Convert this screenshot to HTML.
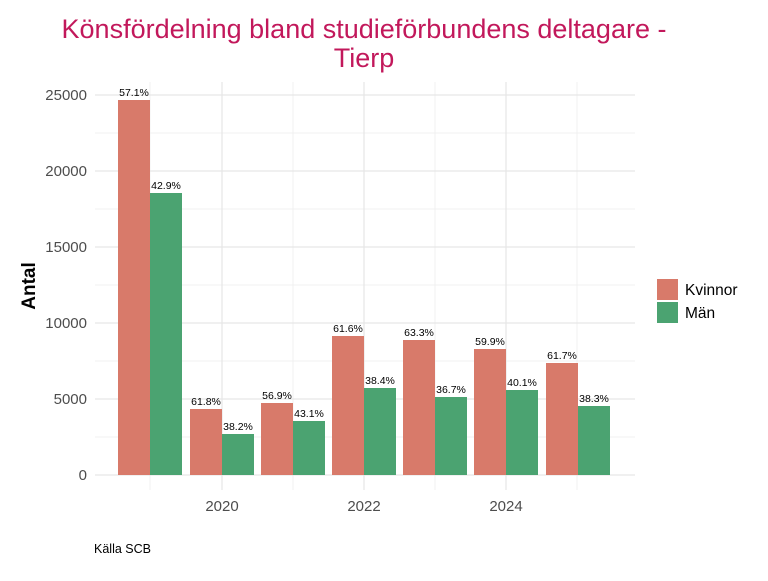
<!DOCTYPE html>
<html><head><meta charset="utf-8"><style>body{margin:0;background:#fff}</style></head><body>
<svg width="768" height="576" xmlns="http://www.w3.org/2000/svg" font-family="Liberation Sans, sans-serif">
<rect width="768" height="576" fill="#fff"/>
<text x="364" y="38" font-size="27" fill="#c2185b" text-anchor="middle">Könsfördelning bland studieförbundens deltagare -</text>
<text x="364" y="67" font-size="27" fill="#c2185b" text-anchor="middle">Tierp</text>
<g stroke="#f0f0f0" stroke-width="1">
<line x1="95" x2="635" y1="437" y2="437"/><line x1="95" x2="635" y1="361" y2="361"/><line x1="95" x2="635" y1="285" y2="285"/><line x1="95" x2="635" y1="209" y2="209"/><line x1="95" x2="635" y1="133" y2="133"/>
<line x1="150" x2="150" y1="82" y2="490"/><line x1="293" x2="293" y1="82" y2="490"/><line x1="435" x2="435" y1="82" y2="490"/><line x1="577" x2="577" y1="82" y2="490"/>
</g>
<g stroke="#e6e6e6" stroke-width="1.2">
<line x1="95" x2="635" y1="475" y2="475"/><line x1="95" x2="635" y1="399" y2="399"/><line x1="95" x2="635" y1="323" y2="323"/><line x1="95" x2="635" y1="247" y2="247"/><line x1="95" x2="635" y1="171" y2="171"/><line x1="95" x2="635" y1="95" y2="95"/>
<line x1="222" x2="222" y1="82" y2="490"/><line x1="364" x2="364" y1="82" y2="490"/><line x1="506" x2="506" y1="82" y2="490"/>
</g>
<g font-size="15" fill="#4d4d4d" text-anchor="end">
<text x="87" y="480">0</text><text x="87" y="404">5000</text><text x="87" y="328">10000</text><text x="87" y="252">15000</text><text x="87" y="176">20000</text><text x="87" y="100">25000</text>
</g>
<g font-size="15" fill="#4d4d4d" text-anchor="middle">
<text x="222" y="511">2020</text><text x="364" y="511">2022</text><text x="506" y="511">2024</text>
</g>
<text transform="translate(35,286) rotate(-90)" font-size="19" font-weight="bold" text-anchor="middle">Antal</text>
<g fill="#d87a6a">
<rect x="118" y="100" width="32" height="375"/><rect x="190" y="409" width="32" height="66"/><rect x="261" y="403" width="32" height="72"/><rect x="332" y="336" width="32" height="139"/><rect x="403" y="340" width="32" height="135"/><rect x="474" y="349" width="32" height="126"/><rect x="546" y="363" width="32" height="112"/>
</g>
<g fill="#4ba371">
<rect x="150" y="193" width="32" height="282"/><rect x="222" y="434" width="32" height="41"/><rect x="293" y="421" width="32" height="54"/><rect x="364" y="388" width="32" height="87"/><rect x="435" y="397" width="32" height="78"/><rect x="506" y="390" width="32" height="85"/><rect x="578" y="406" width="32" height="69"/>
</g>
<g font-size="10.5" fill="#000" text-anchor="middle">
<text x="134" y="96">57.1%</text><text x="166" y="189">42.9%</text>
<text x="206" y="405">61.8%</text><text x="238" y="430">38.2%</text>
<text x="277" y="399">56.9%</text><text x="309" y="417">43.1%</text>
<text x="348" y="332">61.6%</text><text x="380" y="384">38.4%</text>
<text x="419" y="336">63.3%</text><text x="451" y="393">36.7%</text>
<text x="490" y="345">59.9%</text><text x="522" y="386">40.1%</text>
<text x="562" y="359">61.7%</text><text x="594" y="402">38.3%</text>
</g>
<rect x="657" y="279" width="21" height="21" fill="#d87a6a"/>
<rect x="657" y="302" width="21" height="21" fill="#4ba371"/>
<text x="685" y="295" font-size="15.5">Kvinnor</text>
<text x="685" y="318" font-size="15.5">Män</text>
<text x="94" y="553" font-size="12.5">Källa SCB</text>
</svg>
</body></html>
